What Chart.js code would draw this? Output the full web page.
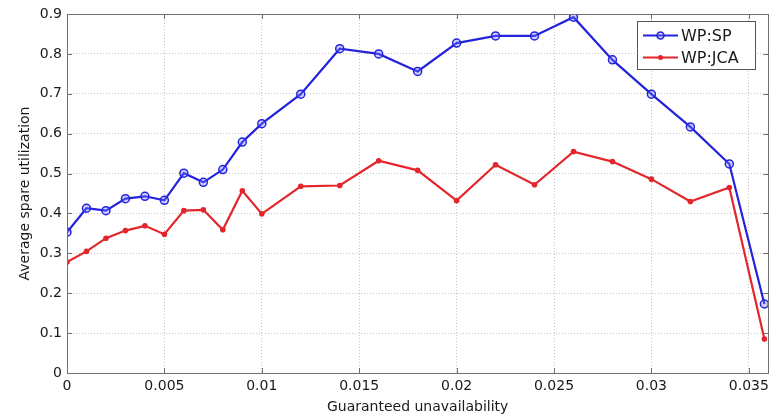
<!DOCTYPE html>
<html>
<head>
<meta charset="utf-8">
<script src="https://cdn.jsdelivr.net/npm/chart.js@4"></script>
<style>
html,body{margin:0;padding:0;background:#fff;}
#wrap{width:774px;height:418px;position:relative;}
</style>
</head>
<body>
<div id="wrap"><canvas id="c"></canvas></div>
<script>
const xValues = [0,0.001,0.002,0.003,0.004,0.005,0.006,0.007,0.008,0.009,0.010,0.012,0.014,0.016,0.018,0.020,0.022,0.024,0.026,0.028,0.030,0.032,0.034,0.0358];
const spValues = [0.353,0.413,0.407,0.437,0.443,0.433,0.501,0.478,0.510,0.579,0.625,0.699,0.813,0.800,0.756,0.827,0.845,0.845,0.892,0.785,0.699,0.617,0.524,0.173];
const jcaValues = [0.278,0.305,0.338,0.357,0.369,0.348,0.407,0.409,0.359,0.457,0.399,0.468,0.470,0.532,0.508,0.432,0.522,0.472,0.555,0.530,0.486,0.430,0.465,0.085];
const seriesNames = ['WP:SP','WP:JCA'];
const xTickValues = [0,0.005,0.01,0.015,0.02,0.025,0.03,0.035];
const xTickLabels = ['0','0.005','0.01','0.015','0.02','0.025','0.03','0.035'];
const yTickValues = [0,0.1,0.2,0.3,0.4,0.5,0.6,0.7,0.8,0.9];
const yTickLabels = ['0','0.1','0.2','0.3','0.4','0.5','0.6','0.7','0.8','0.9'];
const xTitle = 'Guaranteed unavailability';
const yTitle = 'Average spare utilization';

const BLUE = '#2323dc';
const RED = '#e3262b';
const FONT = 'DejaVu Sans';

const boxPlugin = {
  id: 'boxAndTicks',
  afterDraw(chart) {
    const ctx = chart.ctx;
    const a = chart.chartArea;
    const xs = chart.scales.x, ys = chart.scales.y;
    ctx.save();
    ctx.strokeStyle = '#707070';
    ctx.lineWidth = 1;
    ctx.strokeRect(Math.round(a.left) + 0.5, Math.round(a.top) + 0.5, Math.round(a.right - a.left), Math.round(a.bottom - a.top));
    const tl = 5;
    ctx.beginPath();
    xTickValues.forEach(v => {
      const px = Math.round(xs.getPixelForValue(v)) + 0.5;
      ctx.moveTo(px, a.bottom); ctx.lineTo(px, a.bottom - tl);
      ctx.moveTo(px, a.top); ctx.lineTo(px, a.top + tl);
    });
    yTickValues.forEach(v => {
      const py = Math.round(ys.getPixelForValue(v)) + 0.5;
      ctx.moveTo(a.left, py); ctx.lineTo(a.left + tl, py);
      ctx.moveTo(a.right, py); ctx.lineTo(a.right - tl, py);
    });
    ctx.stroke();

    // legend
    const lx = 637, ly = 21, lw = 118, lh = 48;
    ctx.fillStyle = '#fff';
    ctx.fillRect(lx, ly, lw, lh);
    ctx.strokeStyle = '#555';
    ctx.strokeRect(lx + 0.5, ly + 0.5, lw, lh);
    chart.data.datasets.forEach((ds, i) => {
      const cy = ly + 14.5 + i * 22;
      ctx.strokeStyle = ds.borderColor;
      ctx.lineWidth = 2;
      ctx.beginPath(); ctx.moveTo(643, cy); ctx.lineTo(678, cy); ctx.stroke();
      ctx.beginPath();
      if (i === 0) {
        ctx.lineWidth = 1.5;
        ctx.arc(660.5, cy, 3.5, 0, Math.PI * 2);
        ctx.fillStyle = ds.pointBackgroundColor; ctx.fill(); ctx.stroke();
      } else {
        ctx.arc(660.5, cy, 2.5, 0, Math.PI * 2);
        ctx.fillStyle = ds.borderColor; ctx.fill();
      }
      ctx.fillStyle = '#1a1a1a';
      ctx.font = '16px "' + FONT + '"';
      ctx.textBaseline = 'middle';
      ctx.textAlign = 'left';
      ctx.fillText(ds.label, 681, cy + 1);
    });
    ctx.restore();
  }
};

new Chart(document.getElementById('c'), {
  type: 'line',
  data: {
    datasets: [
      {
        label: seriesNames[0],
        data: xValues.map((x, i) => ({x, y: spValues[i]})),
        borderColor: BLUE, borderWidth: 2.2,
        pointStyle: 'circle', pointRadius: 4, pointBorderWidth: 1.5,
        pointBorderColor: BLUE, pointBackgroundColor: 'rgba(120,120,255,0.35)',
        tension: 0
      },
      {
        label: seriesNames[1],
        data: xValues.map((x, i) => ({x, y: jcaValues[i]})),
        borderColor: RED, borderWidth: 2.2,
        pointStyle: 'circle', pointRadius: 2.8, pointBorderWidth: 0,
        pointBackgroundColor: RED, pointBorderColor: RED,
        tension: 0
      }
    ]
  },
  options: {
    responsive: true,
    maintainAspectRatio: false,
    animation: false,
    devicePixelRatio: 1,
    layout: { padding: { left: 0, right: 5, top: 14, bottom: 0 } },
    plugins: { legend: { display: false }, tooltip: { enabled: false } },
    scales: {
      x: {
        type: 'linear', min: 0, max: 0.036,
        afterBuildTicks: s => { s.ticks = xTickValues.map(v => ({value: v})); },
        afterFit: s => { s.height = 45; },
        ticks: {
          autoSkip: false, maxRotation: 0, padding: 5, color: '#1a1a1a',
          font: { family: FONT, size: 14 },
          callback: (v, i) => xTickLabels[i]
        },
        grid: { color: '#c4c4c4', drawTicks: false, lineWidth: 1 },
        border: { display: false, dash: [1, 2] },
        title: { display: true, text: xTitle, color: '#1a1a1a', font: { family: FONT, size: 14 }, padding: { top: 0, bottom: 2 } }
      },
      y: {
        type: 'linear', min: 0, max: 0.9,
        afterBuildTicks: s => { s.ticks = yTickValues.map(v => ({value: v})); },
        afterFit: s => { s.width = 67; },
        ticks: {
          autoSkip: false, padding: 5, color: '#1a1a1a',
          font: { family: FONT, size: 14 },
          callback: (v, i) => yTickLabels[i]
        },
        grid: { color: '#c4c4c4', drawTicks: false, lineWidth: 1 },
        border: { display: false, dash: [1, 2] },
        title: { display: true, text: yTitle, color: '#1a1a1a', font: { family: FONT, size: 14 }, padding: { top: 17, bottom: 0 } }
      }
    }
  },
  plugins: [boxPlugin]
});
</script>
</body>
</html>
